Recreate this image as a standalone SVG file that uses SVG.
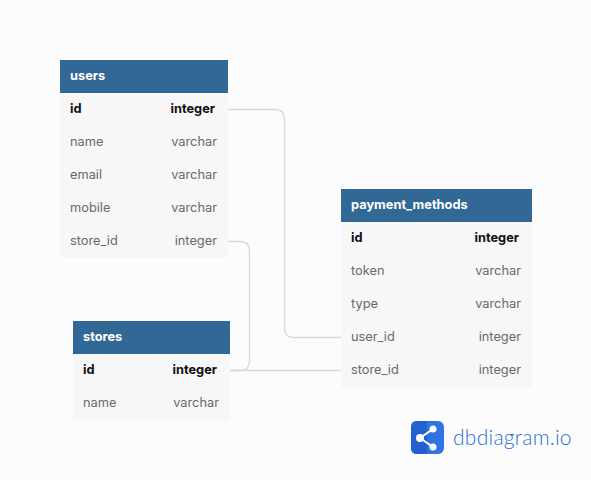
<svg xmlns="http://www.w3.org/2000/svg" width="591" height="480" viewBox="0 0 591 480">
<style>
text{font-family:Inter,"Noto Sans",sans-serif;font-size:12.800px;fill:#6a6a6a}
.h{fill:#316896}.b{fill:#f7f7f7}
.t{fill:#fff;font-weight:700}
.k{fill:#111;font-weight:700}
.r{text-anchor:end}
.c{fill:none;stroke:#d8d8d8;stroke-width:1.3}
</style>
<rect width="591" height="480" fill="#fcfcfd"/>
<g id="connectors">
<path class="c" d="M228 109.500H275Q284.500 109.500 284.500 119V328Q284.500 337.500 294 337.500H341"/>
<path class="c" d="M228 241.500H240Q249.500 241.500 249.500 251V361Q249.500 370.500 240 370.500H230"/>
<path class="c" d="M230 370.500H341"/>
</g>
<g id="users">
<rect class="b" x="60" y="93" width="168" height="165"/>
<rect class="h" x="60" y="60" width="168" height="33"/>
<text class="t" x="70" y="80">users</text>
<text class="k" x="70" y="113">id</text><text class="k r" x="215" y="113">integer</text>
<text x="70" y="146">name</text><text class="r" x="217" y="146">varchar</text>
<text x="70" y="179">email</text><text class="r" x="217" y="179">varchar</text>
<text x="70" y="212">mobile</text><text class="r" x="217" y="212">varchar</text>
<text x="70" y="245">store_id</text><text class="r" x="217" y="245">integer</text>
</g>
<g id="payment_methods">
<rect class="b" x="341" y="222" width="191" height="165"/>
<rect class="h" x="341" y="189" width="191" height="33"/>
<text class="t" x="351" y="209">payment_methods</text>
<text class="k" x="351" y="242">id</text><text class="k r" x="519" y="242">integer</text>
<text x="351" y="275">token</text><text class="r" x="521" y="275">varchar</text>
<text x="351" y="308">type</text><text class="r" x="521" y="308">varchar</text>
<text x="351" y="341">user_id</text><text class="r" x="521" y="341">integer</text>
<text x="351" y="374">store_id</text><text class="r" x="521" y="374">integer</text>
</g>
<g id="stores">
<rect class="b" x="73" y="354" width="157" height="66"/>
<rect class="h" x="73" y="321" width="157" height="33"/>
<text class="t" x="83" y="341">stores</text>
<text class="k" x="83" y="374">id</text><text class="k r" x="217" y="374">integer</text>
<text x="83" y="407">name</text><text class="r" x="219" y="407">varchar</text>
</g>
<g id="logo">
<rect x="411" y="421" width="33" height="33" rx="6" fill="#2f74e0"/>
<path d="M417 421H427V454H417Q411 454 411 448V427Q411 421 417 421Z" fill="#2560d0"/>
<path d="M433 429L420 438L433 447" fill="none" stroke="#fff" stroke-width="2"/>
<circle cx="433" cy="429" r="3.500" fill="#fff"/><circle cx="420" cy="438" r="4" fill="#fff"/><circle cx="433" cy="447" r="3.500" fill="#fff"/>
<text x="453" y="445" style="font-family:Lato,sans-serif;font-size:21px;font-weight:300;fill:#2f6fd6;letter-spacing:.25px">dbdiagram.io</text>
</g>
</svg>
